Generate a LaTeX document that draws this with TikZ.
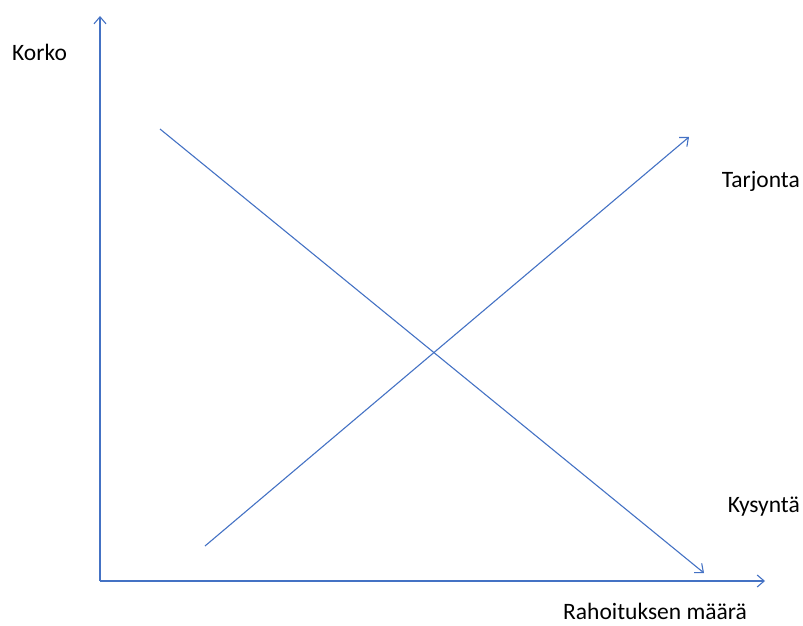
\documentclass[tikz,border=0pt]{standalone}
\usepackage{fontspec}
\setmainfont{Carlito}
\definecolor{LineBlue}{RGB}{68,114,196}
\usetikzlibrary{arrows.meta}

\begin{document}
\begin{tikzpicture}[
    x=1pt, y=-1pt,
    curve/.style={draw=LineBlue, line width=1.1pt, -{Straight Barb[length=7pt, width=12pt]}},
    lbl/.style={font=\fontsize{23.5}{28}\selectfont, inner sep=0pt}
]
    \useasboundingbox (0,0) rectangle (803,626);
    % axes
    \coordinate (origin) at (100,581);
    \coordinate (ytop)   at (100,16);
    \coordinate (xend)   at (765,581);
    \draw[curve] (origin) -- (ytop);
    \draw[curve] (origin) -- (xend);
    % demand and supply
    \coordinate (dstart) at (160,129);
    \coordinate (dend)   at (704,573);
    \coordinate (sstart) at (205,546);
    \coordinate (send)   at (689,137);
    \draw[curve] (dstart) -- (dend);
    \draw[curve] (sstart) -- (send);
    % labels
    \node[lbl, anchor=base west] (korko)    at (12,60)   {Korko};
    \node[lbl, anchor=base east] (tarjonta) at (800,187) {Tarjonta};
    \node[lbl, anchor=base east] (kysynta)  at (800,512) {Kysyntä};
    \node[lbl, anchor=base west] (maara)    at (563,619) {Rahoituksen määrä};
\end{tikzpicture}
\end{document}
